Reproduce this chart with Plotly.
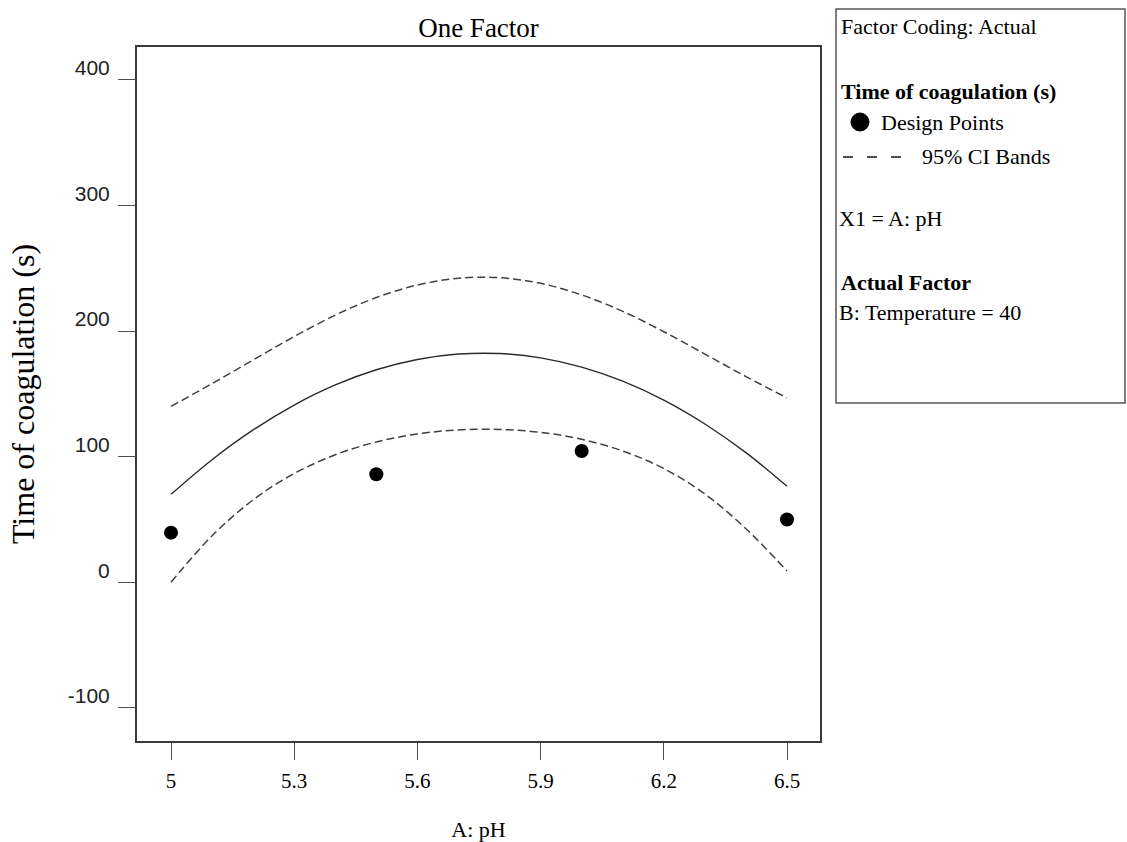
import plotly.graph_objects as go

# ---------------- data ----------------
ph_design = [5.0, 5.5, 6.0, 6.5]
time_design = [39.5, 86.0, 104.5, 50.0]

ph_grid = [5.0, 5.1, 5.2, 5.3, 5.4, 5.5, 5.6, 5.7, 5.8, 5.9, 6.0, 6.1, 6.2, 6.3, 6.4, 6.5]
time_fit = [70.0, 97.6, 121.3, 141.1, 157.1, 169.2, 177.4, 181.7, 182.1, 178.7,
            171.3, 160.1, 145.0, 126.0, 103.2, 76.4]
ci_upper = [140.0, 158.2, 177.0, 195.6, 212.7, 226.7, 236.7, 242.1, 242.5, 238.0,
            228.8, 215.7, 199.5, 181.7, 163.8, 146.8]
ci_lower = [0.0, 37.0, 65.6, 86.6, 101.5, 111.7, 118.1, 121.3, 121.7, 119.4,
            113.8, 104.5, 90.5, 70.3, 42.6, 9.0]

x_ticks = [5, 5.3, 5.6, 5.9, 6.2, 6.5]
x_ticktext = ["5", "5.3", "5.6", "5.9", "6.2", "6.5"]
y_ticks = [-100, 0, 100, 200, 300, 400]
y_ticktext = ["-100", "0", "100", "200", "300", "400"]

# ---------------- layout geometry (pixels) ----------------
W, H = 1127, 842
L, R, T, B = 137, 820, 47, 741   # plot-area edges


def px(xp):
    return (xp - L) / (R - L)


def py(yp):
    return (B - yp) / (B - T)


SERIF = "Liberation Serif"
SANS = "Liberation Sans"
LINE_COL = "#3a3a3a"

fig = go.Figure()

fig.add_trace(go.Scatter(x=ph_grid, y=ci_upper, mode="lines", line_shape="spline",
                         line=dict(color="#404040", width=1.5, dash="8px,4px"),
                         showlegend=False, hoverinfo="skip"))
fig.add_trace(go.Scatter(x=ph_grid, y=ci_lower, mode="lines", line_shape="spline",
                         line=dict(color="#404040", width=1.5, dash="8px,4px"),
                         showlegend=False, hoverinfo="skip"))
fig.add_trace(go.Scatter(x=ph_grid, y=time_fit, mode="lines", line_shape="spline",
                         line=dict(color="#2a2a2a", width=1.4),
                         showlegend=False))
fig.add_trace(go.Scatter(x=ph_design, y=time_design, mode="markers",
                         marker=dict(color="black", size=14, symbol="circle"),
                         showlegend=False))

fig.update_layout(
    width=W, height=H,
    margin=dict(l=L, r=W - R, t=T, b=H - B, autoexpand=False),
    paper_bgcolor="white", plot_bgcolor="white",
    showlegend=False,
    title=dict(text="One Factor", x=(L + R) / 2 / W, xanchor="center",
               y=1 - 28 / H, yanchor="middle", yref="container",
               font=dict(family=SERIF, size=27, color="black")),
    font=dict(family=SERIF, color="black"),
)

fig.update_xaxes(
    range=[5 - 34 / 410.7, 6.5 + 33 / 410.7],
    tickvals=x_ticks, ticktext=x_ticktext,
    ticks="outside", ticklen=17, tickwidth=1.3, tickcolor="#505050",
    showline=True, mirror=True, linecolor=LINE_COL, linewidth=2,
    showgrid=False, zeroline=False,
    tickfont=dict(family=SERIF, size=21, color="black"),
    ticklabelstandoff=3,
    title=dict(text="A: pH", font=dict(family=SERIF, size=22, color="black"), standoff=29),
)
fig.update_yaxes(
    range=[-126.4, 426.2],
    tickvals=y_ticks, ticktext=y_ticktext,
    ticks="outside", ticklen=17, tickwidth=1.3, tickcolor="#505050",
    showline=True, mirror=True, linecolor=LINE_COL, linewidth=2,
    showgrid=False, zeroline=False,
    tickfont=dict(family=SANS, size=21, color="#222222"),
    ticklabelstandoff=4, ticklabelshift=-12,
    title=dict(text="Time of coagulation (s)", font=dict(family=SERIF, size=32, color="black"),
               standoff=24),
)

# ---------------- info box on the right ----------------
shapes = [
    dict(type="rect", xref="paper", yref="paper",
         x0=px(836), x1=px(1125), y0=py(403), y1=py(9),
         line=dict(color="#555555", width=1.5), fillcolor="rgba(0,0,0,0)"),
    dict(type="circle", xref="paper", yref="paper",
         x0=px(851), x1=px(869), y0=py(131), y1=py(113),
         fillcolor="black", line=dict(color="black", width=1)),
]
for x0 in (843, 867, 891):
    shapes.append(dict(type="line", xref="paper", yref="paper",
                       x0=px(x0), x1=px(x0 + 10), y0=py(157), y1=py(157),
                       line=dict(color="black", width=1.4)))
fig.update_layout(shapes=shapes)

box_text = [
    ("Factor Coding: Actual", 839, 26),
    ("<b>Time of coagulation (s)</b>", 839, 91),
    ("Design Points", 879, 122),
    ("95% CI Bands", 920, 156),
    ("X1 = A: pH", 837, 218),
    ("<b>Actual Factor</b>", 839, 282),
    ("B: Temperature = 40", 837, 312),
]
for txt, xp, yp in box_text:
    fig.add_annotation(text=txt, xref="paper", yref="paper", x=px(xp), y=py(yp),
                       xanchor="left", yanchor="middle", showarrow=False,
                       font=dict(family=SERIF, size=22, color="black"))

fig.write_html("out.html", config={"displayModeBar": False},
               post_script="document.body.style.margin='0';document.body.style.overflow='hidden';")
